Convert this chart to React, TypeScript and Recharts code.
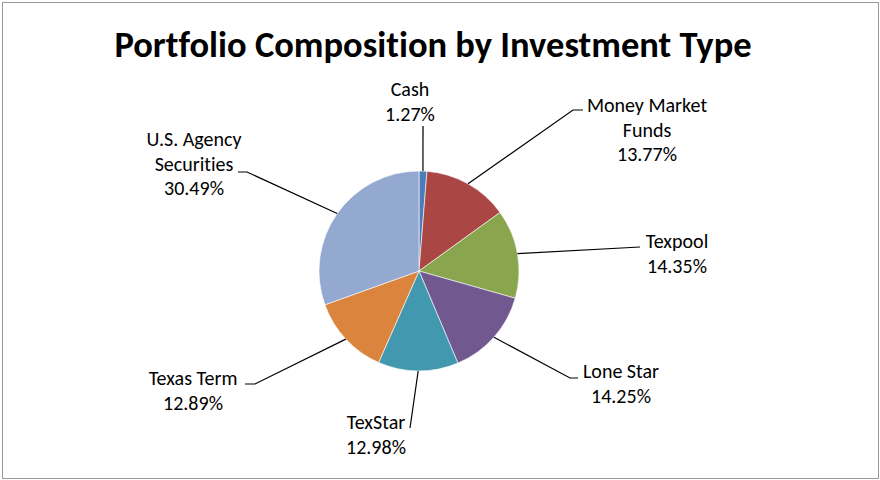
import React from "react";
import { PieChart, Pie, Cell } from "recharts";

const categories = [
  "Cash",
  "Money Market Funds",
  "Texpool",
  "Lone Star",
  "TexStar",
  "Texas Term",
  "U.S. Agency Securities",
];
const shares = [1.27, 13.77, 14.35, 14.25, 12.98, 12.89, 30.49];
const colors = ["#4A7EBB", "#AA4643", "#89A54E", "#71588F", "#4198AF", "#DB843D", "#93A9CF"];

// label placement relative to pie centre: elbow of leader line, horizontal tail, text block
const labelLayout = [
  { ex: 4, ey: -145, tail: 0, tx: -9, ty: -175 },
  { ex: 154, ey: -161, tail: 10, tx: 228, ty: -159 },
  { ex: 221, ey: -24, tail: 0, tx: 258, ty: -23 },
  { ex: 151, ey: 107, tail: 8, tx: 202, ty: 107 },
  { ex: -9, ey: 157, tail: 0, tx: -43, ty: 158 },
  { ex: -164, ey: 113, tail: -10, tx: -226, ty: 114 },
  { ex: -172, ey: -99, tail: -9, tx: -225, ty: -125 },
];

const data = categories.map((name, i) => ({ name, value: shares[i] }));

const FONT = "Carlito, Calibri, Lato, sans-serif";
const LINE_H = 24.5;

function wrap(text: string, max = 12) {
  const words = text.split(" ");
  const lines: string[] = [];
  let cur = "";
  for (const w of words) {
    const next = cur ? cur + " " + w : w;
    if (next.length > max && cur) {
      lines.push(cur);
      cur = w;
    } else cur = next;
  }
  if (cur) lines.push(cur);
  return lines;
}

const RAD = Math.PI / 180;

function renderLabel(props: any) {
  const { cx, cy, midAngle, outerRadius, index, name, value } = props;
  const lay = labelLayout[index];
  const sx = cx + outerRadius * Math.cos(-midAngle * RAD);
  const sy = cy + outerRadius * Math.sin(-midAngle * RAD);
  const ex = cx + lay.ex;
  const ey = cy + lay.ey;
  const lines = [...wrap(name), value.toFixed(2) + "%"];
  return (
    <g key={"lbl" + index}>
      <polyline
        points={`${sx},${sy} ${ex},${ey} ${ex + lay.tail},${ey}`}
        fill="none"
        stroke="#000"
        strokeWidth={1.2}
      />
      {lines.map((t, k) => (
        <text
          key={k}
          x={cx + lay.tx}
          y={cy + lay.ty + k * LINE_H}
          textAnchor="middle"
          fontFamily={FONT}
          fontSize={20}
          fill="#000"
          style={{ fontVariantLigatures: "none" }}
        >
          {t}
        </text>
      ))}
    </g>
  );
}

export default function App() {
  return (
    <div style={{ position: "absolute", left: 0, top: 0, width: 880, height: 480, background: "#fff" }}>
      <svg width={880} height={480} style={{ position: "absolute", left: 0, top: 0 }}>
        <rect x={2.5} y={2.5} width={876} height={476} fill="#fff" stroke="#9a9a9a" strokeWidth={1} />
        <text
          x={433}
          y={57}
          textAnchor="middle"
          fontFamily={FONT}
          fontWeight="bold"
          fontSize={36.5}
          fill="#000"
          style={{ fontVariantLigatures: "none" }}
        >
          Portfolio Composition by Investment Type
        </text>
      </svg>
      <div style={{ position: "absolute", left: 0, top: 0 }}>
        <PieChart width={880} height={480} margin={{ top: 0, right: 0, bottom: 0, left: 0 }}>
          <Pie
            data={data}
            dataKey="value"
            nameKey="name"
            cx={419}
            cy={271}
            outerRadius={100}
            startAngle={90}
            endAngle={-270}
            stroke="#ffffff"
            strokeWidth={0.6}
            labelLine={false}
            label={renderLabel}
            isAnimationActive={false}
          >
            {data.map((d, i) => (
              <Cell key={d.name} fill={colors[i]} />
            ))}
          </Pie>
        </PieChart>
      </div>
    </div>
  );
}
